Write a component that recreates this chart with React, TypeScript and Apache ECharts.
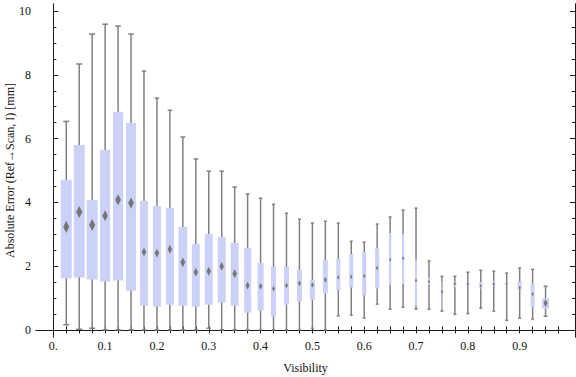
import React, { useEffect, useRef } from "react";
import * as echarts from "echarts";

// Visibility bins (box centres)
const visibility = [
  0.025, 0.05, 0.075, 0.1, 0.125, 0.15, 0.175, 0.2, 0.225, 0.25,
  0.275, 0.3, 0.325, 0.35, 0.375, 0.4, 0.425, 0.45, 0.475, 0.5,
  0.525, 0.55, 0.575, 0.6, 0.625, 0.65, 0.675, 0.7, 0.725, 0.75,
  0.775, 0.8, 0.825, 0.85, 0.875, 0.9, 0.925, 0.95,
];
const whiskerLow = [
  0.16, 0.02, 0.05, 0, 0, 0, 0, 0, 0, 0,
  0, 0.05, 0, 0, 0, 0, 0, 0, 0, 0.05,
  0, 0.44, 0.46, 0.37, 0.81, 0.65, 0.71, 0.65, 0.65, 0.59,
  0.49, 0.51, 0.68, 0.59, 0.3, 0.37, 0.34, 0.43,
];
const quartile1 = [
  1.61, 1.64, 1.58, 1.52, 1.55, 1.23, 0.76, 0.73, 0.79, 0.76,
  0.73, 0.79, 0.86, 0.76, 0.54, 0.61, 0.42, 0.79, 0.9, 0.95,
  1.15, 1.25, 1.33, 1.08, 1.3, 1.41, 1.44, 0.76, 1.41, 0.63,
  1.34, 1.41, 1.3, 1.38, 1.38, 1.26, 0.71, 0.67,
];
const meanValue = [
  3.23, 3.7, 3.29, 3.58, 4.08, 3.98, 2.44, 2.41, 2.53, 2.12,
  1.81, 1.84, 1.99, 1.76, 1.39, 1.37, 1.29, 1.39, 1.46, 1.41,
  1.57, 1.65, 1.67, 1.69, 1.94, 2.2, 2.25, 1.55, 1.52, 1.2,
  1.45, 1.45, 1.38, 1.44, 1.45, 1.32, 1.12, 0.84,
];
const quartile3 = [
  4.71, 5.8, 4.08, 5.65, 6.84, 6.49, 4.05, 3.89, 3.83, 3.23,
  2.7, 3.01, 2.92, 2.73, 2.57, 2.1, 1.98, 1.98, 1.88, 1.57,
  2.2, 2.23, 2.38, 2.45, 2.56, 3.04, 3.01, 2.2, 1.64, 1.52,
  1.51, 1.51, 1.5, 1.54, 1.51, 1.51, 1.46, 0.99,
];
const whiskerHigh = [
  6.54, 8.34, 9.28, 9.59, 9.53, 9.28, 8.12, 7.27, 6.89, 6.05,
  5.36, 4.98, 4.98, 4.48, 4.26, 4.13, 3.94, 3.66, 3.47, 3.35,
  3.41, 3.35, 2.78, 2.75, 3.32, 3.54, 3.76, 3.82, 2.16, 1.68,
  1.68, 1.81, 1.87, 1.84, 1.78, 1.94, 1.9, 1.37,
];
// relative box width (share of the largest bin)
const boxWeight = [
  1, 1, 1, 0.92, 0.92, 0.92, 0.73, 0.73, 0.73, 0.8,
  0.73, 0.73, 0.73, 0.73, 0.64, 0.55, 0.46, 0.46, 0.46, 0.46,
  0.46, 0.37, 0.37, 0.37, 0.37, 0.2, 0.2, 0.2, 0.2, 0.1,
  0.27, 0.27, 0.27, 0.27, 0.27, 0.36, 0.36, 0.64,
];

const xTickValues = [
  0, 0.025, 0.05, 0.075, 0.1, 0.125, 0.15, 0.175, 0.2, 0.225,
  0.25, 0.275, 0.3, 0.325, 0.35, 0.375, 0.4, 0.425, 0.45, 0.475,
  0.5, 0.525, 0.55, 0.575, 0.6, 0.625, 0.65, 0.675, 0.7, 0.725,
  0.75, 0.775, 0.8, 0.825, 0.85, 0.875, 0.9, 0.925, 0.95, 0.975,
];
const xLabelValues = [0, 0.1, 0.2, 0.3, 0.4, 0.5, 0.6, 0.7, 0.8, 0.9];
const yMajorTicks = [0, 2, 4, 6, 8, 10];
const yMinorTicks = [
  0.5, 1, 1.5, 2.5, 3, 3.5, 4.5, 5, 5.5, 6.5, 7, 7.5, 8.5, 9, 9.5,
];

const FONT = "'Liberation Serif', 'Times New Roman', serif";
const FRAME = "#1a1a1a";

export default function App() {
  const ref = useRef<HTMLDivElement>(null);

  useEffect(() => {
    if (!ref.current) return;
    const chart = echarts.init(ref.current, null, { renderer: "svg" });
    const data = visibility.map((v, i) => [
      v,
      whiskerLow[i],
      quartile1[i],
      meanValue[i],
      quartile3[i],
      whiskerHigh[i],
      boxWeight[i],
    ]);

    const xMin = -0.0334;
    const xMax = 1.0068;
    const yMin = -0.223;
    const yMax = 10.223;

    const frameLine = { show: true, lineStyle: { color: FRAME, width: 1 } };

    const xAxisBase = (position: string, withLabels: boolean) => ({
      type: "value",
      position,
      min: xMin,
      max: xMax,
      axisLine: frameLine,
      splitLine: { show: false },
      axisTick: {
        show: true,
        inside: true,
        length: 3.5,
        customValues: xTickValues,
        lineStyle: { color: FRAME, width: 1 },
      },
      axisLabel: withLabels
        ? {
            show: true,
            customValues: xLabelValues,
            margin: 3,
            fontFamily: FONT,
            fontSize: 12,
            color: "#111",
            formatter: (v: number) => (v === 0 ? "0." : String(v)),
          }
        : { show: false },
    });

    const yAxisBase = (
      position: string,
      ticks: number[],
      len: number,
      withLabels: boolean
    ) => ({
      type: "value",
      position,
      offset: 0,
      min: yMin,
      max: yMax,
      axisLine: frameLine,
      splitLine: { show: false },
      axisTick: {
        show: true,
        inside: true,
        length: len,
        customValues: ticks,
        lineStyle: { color: FRAME, width: 1 },
      },
      axisLabel: withLabels
        ? {
            show: true,
            customValues: yMajorTicks,
            margin: 5,
            fontFamily: FONT,
            fontSize: 12,
            color: "#111",
          }
        : { show: false },
    });

    const xBottom: any = xAxisBase("bottom", true);
    xBottom.name = "Visibility";
    xBottom.nameLocation = "middle";
    xBottom.nameGap = 25;
    xBottom.nameMoveOverlap = false;
    xBottom.nameTextStyle = { fontFamily: FONT, fontSize: 12, color: "#111" };

    const yLeft: any = yAxisBase("left", yMajorTicks, 5, true);
    yLeft.name = "Absolute Error (Ref\u2192Scan, I) [mm]";
    yLeft.nameLocation = "middle";
    yLeft.nameGap = 20;
    yLeft.nameRotate = 90;
    yLeft.nameMoveOverlap = false;
    yLeft.nameTextStyle = { fontFamily: FONT, fontSize: 12, color: "#111" };

    chart.setOption({
      animation: false,
      backgroundColor: "#ffffff",
      grid: {
        left: 36,
        right: 1,
        top: 4,
        bottom: 40,
        containLabel: false,
        outerBoundsMode: "none",
      },
      xAxis: [xBottom, xAxisBase("top", false)],
      yAxis: [
        yLeft,
        yAxisBase("left", yMinorTicks, 3, false),
        yAxisBase("right", yMajorTicks, 5, false),
        yAxisBase("right", yMinorTicks, 3, false),
      ],
      series: [
        {
          type: "custom",
          xAxisIndex: 0,
          yAxisIndex: 0,
          data,
          encode: { x: 0, y: [1, 5] },
          renderItem: (params: any, api: any) => {
            const x = api.value(0);
            const lo = api.coord([x, api.value(1)]);
            const b1 = api.coord([x, api.value(2)]);
            const m = api.coord([x, api.value(3)]);
            const b3 = api.coord([x, api.value(4)]);
            const hi = api.coord([x, api.value(5)]);
            const slot = api.size([0.025, 0])[0];
            const bw = slot * 0.85 * api.value(6);
            const cx = lo[0];
            const cap = Math.max(3, bw * 0.55);
            const ls = { stroke: "#808080", lineWidth: 1.5 };
            const dw = Math.max(1, bw * 0.28);
            const dh = Math.max(2, bw * 0.55);
            return {
              type: "group",
              children: [
                {
                  type: "line",
                  shape: { x1: cx, y1: lo[1], x2: cx, y2: hi[1] },
                  style: ls,
                },
                {
                  type: "line",
                  shape: { x1: cx - cap / 2, y1: lo[1], x2: cx + cap / 2, y2: lo[1] },
                  style: ls,
                },
                {
                  type: "line",
                  shape: { x1: cx - cap / 2, y1: hi[1], x2: cx + cap / 2, y2: hi[1] },
                  style: ls,
                },
                {
                  type: "rect",
                  shape: { x: cx - bw / 2, y: b3[1], width: bw, height: b1[1] - b3[1] },
                  style: { fill: "#ccd2f7" },
                },
                {
                  type: "polygon",
                  shape: {
                    points: [
                      [cx, m[1] - dh],
                      [cx + dw, m[1]],
                      [cx, m[1] + dh],
                      [cx - dw, m[1]],
                    ],
                  },
                  style: { fill: "#767676" },
                },
              ],
            };
          },
        },
      ],
    });
    return () => chart.dispose();
  }, []);

  return (
    <div
      ref={ref}
      style={{ position: "fixed", left: 0, top: 0, width: 576, height: 377 }}
    />
  );
}
